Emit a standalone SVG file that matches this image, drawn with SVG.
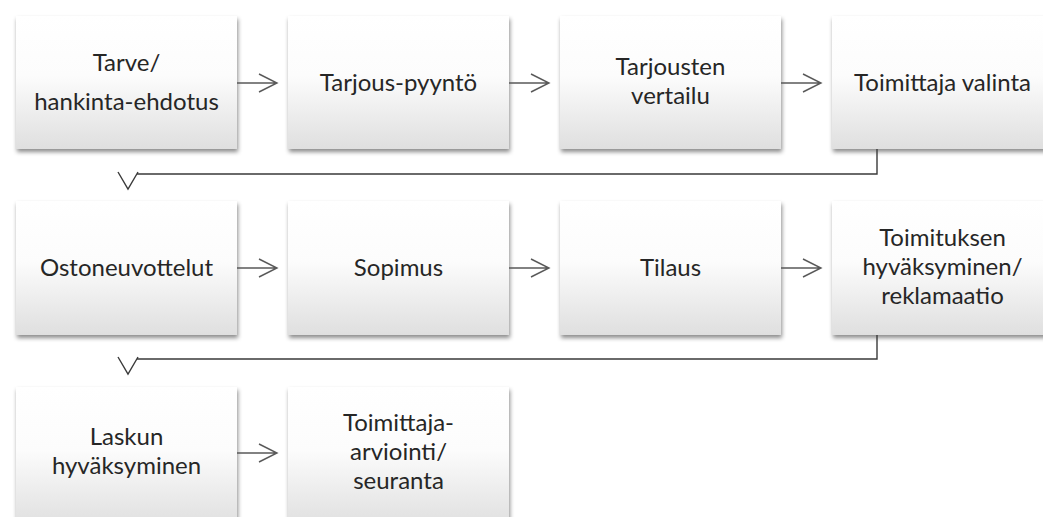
<svg xmlns="http://www.w3.org/2000/svg" width="1043" height="517" viewBox="0 0 1043 517">
<defs>
<linearGradient id="g" x1="0" y1="0" x2="0" y2="1">
<stop offset="0" stop-color="#ffffff"/>
<stop offset="0.45" stop-color="#fcfcfc"/>
<stop offset="1" stop-color="#dfdfdf"/>
</linearGradient>
<filter id="sh" x="-10%" y="-10%" width="125%" height="130%">
<feDropShadow dx="1" dy="3" stdDeviation="2" flood-color="#000" flood-opacity="0.45"/>
</filter>
</defs>
<style>
.box{fill:url(#g);filter:url(#sh);}
text{font-family:Lato,"Open Sans","Liberation Sans",sans-serif;font-size:24px;fill:#262626;text-anchor:middle;}
.ln{fill:none;stroke:#595959;stroke-width:1.4;}
.rl{fill:none;stroke:#3a3a3a;stroke-width:1.4;}
</style>
<rect width="1043" height="517" fill="#ffffff"/>
<g id="n1"><rect class="box" x="16" y="16" width="221" height="133"/><text x="126.5" y="71">Tarve/</text><text x="126.5" y="110">hankinta-ehdotus</text></g>
<g id="n2"><rect class="box" x="288" y="16" width="221" height="133"/><text x="398.5" y="91">Tarjous-pyyntö</text></g>
<g id="n3"><rect class="box" x="560" y="16" width="221" height="133"/><text x="670.5" y="75">Tarjousten</text><text x="670.5" y="104">vertailu</text></g>
<g id="n4"><rect class="box" x="832" y="16" width="221" height="133"/><text x="942.5" y="91">Toimittaja valinta</text></g>
<g id="n5"><rect class="box" x="16" y="201" width="221" height="134"/><text x="126.5" y="276">Ostoneuvottelut</text></g>
<g id="n6"><rect class="box" x="288" y="201" width="221" height="134"/><text x="398.5" y="276">Sopimus</text></g>
<g id="n7"><rect class="box" x="560" y="201" width="221" height="134"/><text x="670.5" y="276">Tilaus</text></g>
<g id="n8"><rect class="box" x="832" y="201" width="221" height="134"/><text x="942.5" y="246">Toimituksen</text><text x="942.5" y="275">hyväksyminen/</text><text x="942.5" y="304">reklamaatio</text></g>
<g id="n9"><rect class="box" x="16" y="387" width="221" height="140"/><text x="126.5" y="445">Laskun</text><text x="126.5" y="474">hyväksyminen</text></g>
<g id="n10"><rect class="box" x="288" y="387" width="221" height="140"/><text x="398.5" y="431">Toimittaja-</text><text x="398.5" y="460">arviointi/</text><text x="398.5" y="489">seuranta</text></g>
<g id="connectors">
<path class="ln" d="M237,83H277M259,74L277,83L259,92"/>
<path class="ln" d="M509,83H549M531,74L549,83L531,92"/>
<path class="ln" d="M781,83H821M803,74L821,83L803,92"/>
<path class="ln" d="M237,268H277M259,259L277,268L259,277"/>
<path class="ln" d="M509,268H549M531,259L549,268L531,277"/>
<path class="ln" d="M781,268H821M803,259L821,268L803,277"/>
<path class="ln" d="M237,453H277M259,444L277,453L259,462"/>
<path class="rl" d="M877,149V174H137M118,172L128,189L138,172"/>
<path class="rl" d="M877,335V359H137M118,357L128,374L138,357"/>
</g>
</svg>
